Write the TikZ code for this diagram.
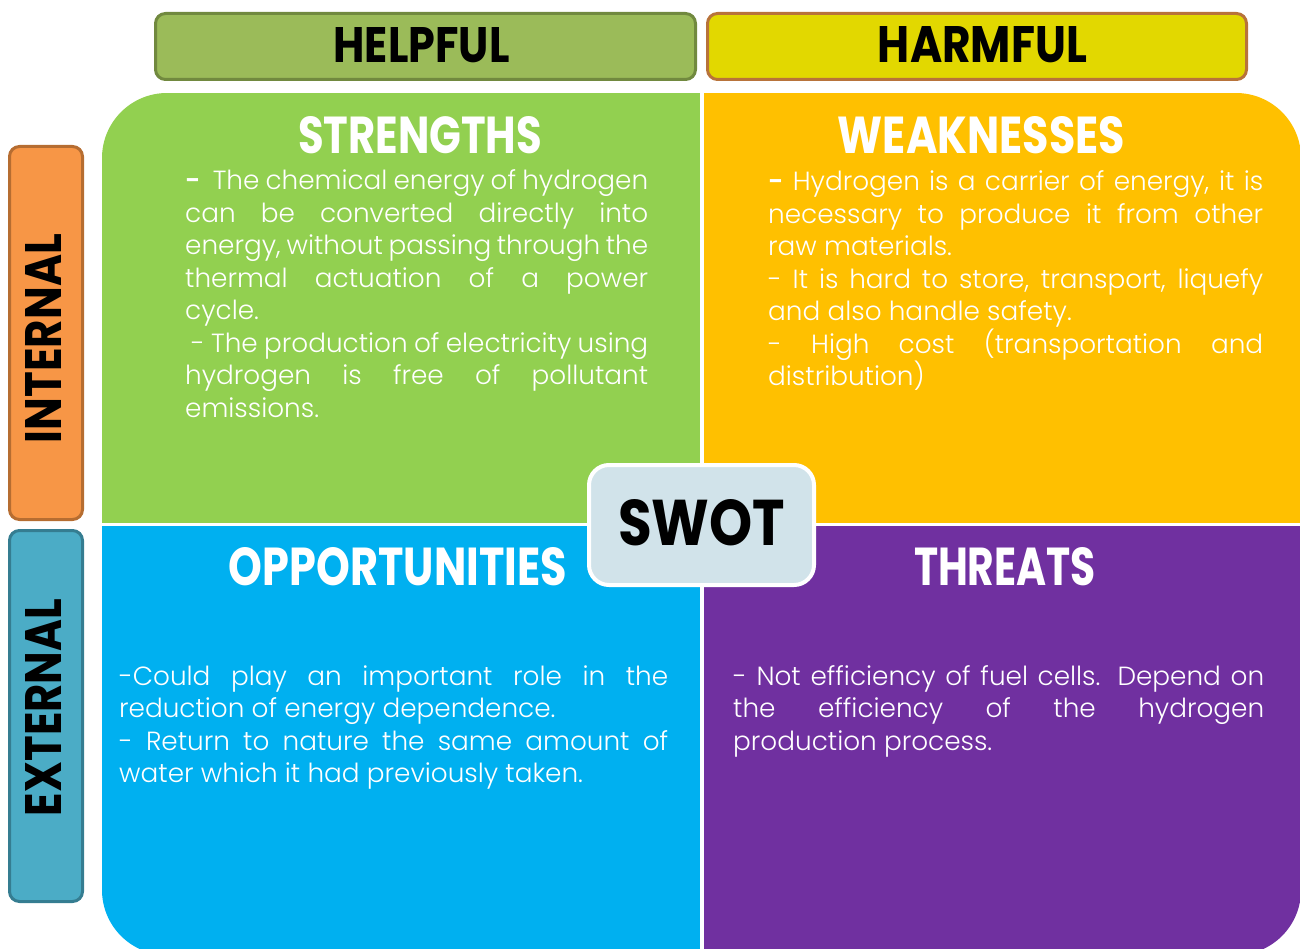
\documentclass[tikz,border=0pt]{standalone}
\usepackage{fontspec}
\usepackage{graphicx}
\setmainfont{Poppins}
\newfontfamily\bodyfont{Poppins Light}
\definecolor{cgreen}{HTML}{92D050}
\definecolor{corange}{HTML}{FFC000}
\definecolor{cblue}{HTML}{00B0F0}
\definecolor{cpurple}{HTML}{7030A0}
\definecolor{helpfill}{HTML}{9BBB59}
\definecolor{helpline}{HTML}{71893F}
\definecolor{harmfill}{HTML}{E2D800}
\definecolor{harmline}{HTML}{B8733A}
\definecolor{intfill}{HTML}{F79646}
\definecolor{intline}{HTML}{B66D31}
\definecolor{extfill}{HTML}{4BACC6}
\definecolor{extline}{HTML}{357D91}
\definecolor{swotfill}{HTML}{D1E3EA}
\newcommand{\jl}[1]{\makebox[\linewidth][s]{#1}}
\newcommand{\fitto}[3]{\resizebox{#1pt}{#2pt}{\bfseries #3}}
\tikzset{
  tagbox/.style={draw=#1, line width=3pt, rounded corners=10pt, inner sep=0pt},
  lbl/.style={inner sep=0pt, text=black},
  ttl/.style={inner sep=0pt, text=white},
  body/.style={anchor=base west, inner sep=0pt, text=white,
    font=\bodyfont\fontsize{26.3}{32.5}\selectfont},
}
\begin{document}
\begin{tikzpicture}[x=1pt, y=-1pt]
\useasboundingbox (0,0) rectangle (1300,949);
% quadrants
\begin{scope}
  \clip (0,0) rectangle (1300,949);
  \clip[rounded corners=65pt] (102,93) rectangle (1301,955);
  \fill[cgreen]  (102,93)    rectangle (699.5,523);
  \fill[corange] (703.5,93)  rectangle (1301,523);
  \fill[cblue]   (102,526)   rectangle (699.5,955);
  \fill[cpurple] (703.5,526) rectangle (1301,955);
\end{scope}
% header tags
\node[tagbox=helpline, fill=helpfill, minimum width=540pt, minimum height=66pt] (helpbox) at (425.5,46.5) {};
\node[tagbox=harmline, fill=harmfill, minimum width=539pt, minimum height=66pt] (harmbox) at (977,46.5) {};
\node[tagbox=intline, fill=intfill, minimum width=73pt, minimum height=373pt] (intbox) at (46,333) {};
\node[tagbox=extline, fill=extfill, minimum width=73pt, minimum height=371pt] (extbox) at (46,716) {};
\node[lbl] (helptxt) at (421.5,45.5) {\fitto{176}{35}{HELPFUL}};
\node[lbl] (harmtxt) at (982.5,45) {\fitto{209}{36}{HARMFUL}};
\node[lbl] (inttxt) at (43,338.5) {\rotatebox{90}{\fitto{209}{36}{INTERNAL}}};
\node[lbl] (exttxt) at (43,707.5) {\rotatebox{90}{\fitto{217}{36}{EXTERNAL}}};
% quadrant titles
\node[ttl] (sttl) at (420,135) {\fitto{244}{37}{STRENGTHS}};
\node[ttl] (wttl) at (981.5,135) {\fitto{287}{37}{WEAKNESSES}};
\node[ttl] (ottl) at (398,567) {\fitto{338}{38}{OPPORTUNITIES}};
\node[ttl] (tttl) at (1005,567) {\fitto{182}{38}{THREATS}};
% body texts
\node[body] (stxt) at (185,190) {\parbox[t]{463pt}{%
\jl{\textbf{-}\ \ The chemical energy of hydrogen}\\
\jl{can be converted directly into}\\
\jl{energy, without passing through the}\\
\jl{thermal actuation of a power}\\
cycle.\\
\jl{\hspace*{6pt}- The production of electricity using}\\
\jl{hydrogen is free of pollutant}\\
emissions.}};
\node[body] (wtxt) at (768,191) {\parbox[t]{495pt}{%
\jl{\textbf{-} Hydrogen is a carrier of energy, it is}\\
\jl{necessary to produce it from other}\\
raw materials.\\
\jl{- It is hard to store, transport, liquefy}\\
and also handle safety.\\
\jl{- High cost (transportation and}\\
distribution)}};
\node[body] (otxt) at (119,685) {\parbox[t]{549pt}{%
\jl{-Could play an important role in the}\\
reduction of energy dependence.\\
\jl{- Return to nature the same amount of}\\
water which it had previously taken.}};
\node[body] (ttxt) at (733,685) {\parbox[t]{531pt}{%
\jl{- Not efficiency of fuel cells. Depend on}\\
\jl{the efficiency of the hydrogen}\\
production process.}};
% centre SWOT
\node[draw=white, line width=4pt, fill=swotfill, rounded corners=20pt, minimum width=225pt, minimum height=120pt, inner sep=0pt] (swotbox) at (701.5,525) {};
\node[lbl] (swottxt) at (701.5,523) {\fitto{167}{46}{SWOT}};
\end{tikzpicture}
\end{document}
